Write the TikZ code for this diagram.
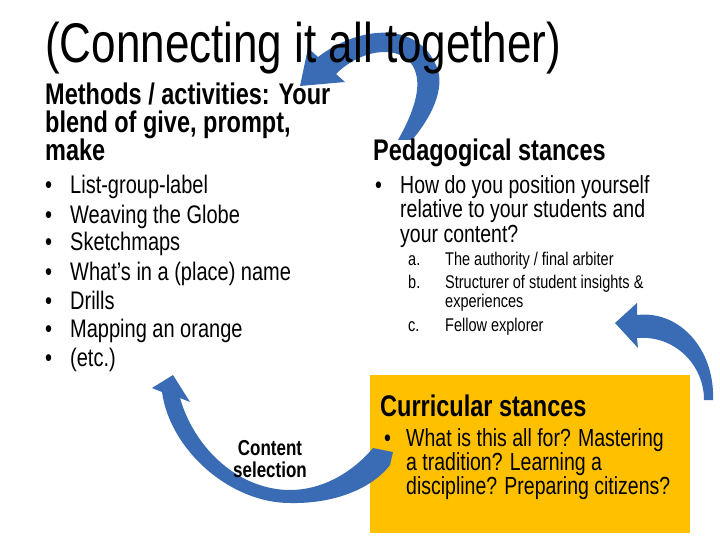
\documentclass[tikz,border=0pt]{standalone}
\usepackage{fontspec}
\setmainfont{Liberation Sans}
\definecolor{arrowblue}{RGB}{58,108,182}
\definecolor{boxorange}{RGB}{255,192,0}
\tikzset{
  t/.style={anchor=base west, inner sep=0pt, yscale=1.27, transform shape},
  tc/.style={anchor=base, inner sep=0pt, yscale=1.27, transform shape},
  arr/.style={fill=arrowblue, draw=none},
  big/.style={font=\fontsize{44}{48}\selectfont},
  head/.style={font=\fontsize{23.5}{26}\selectfont\bfseries},
  body/.style={font=\fontsize{20}{22}\selectfont},
  rbody/.style={font=\fontsize{19.5}{22}\selectfont},
  small/.style={font=\fontsize{14.5}{16}\selectfont},
  cs/.style={font=\fontsize{17}{19}\selectfont\bfseries},
}
\begin{document}
\begin{tikzpicture}[x=1pt,y=-1pt]
\useasboundingbox (0,0) rectangle (720,540);
\fill[white] (0,0) rectangle (720,540);
% orange box
\node[fill=boxorange, minimum width=320pt, minimum height=158pt, anchor=north west, inner sep=0pt] (box) at (370,375) {};
% top arrow
\path[arr] (318,57) .. controls (360,25) and (420,20) .. (438,70) .. controls (445,95) and (425,125) .. (412,140) -- (398,140) .. controls (415,110) and (425,80) .. (410,62) .. controls (395,45) and (360,50) .. (336,74) -- (345,82) -- (300,86) -- (308,48) -- cycle;
% bottom arrow
\path[arr] (162,392) .. controls (170,450) and (230,503) .. (290,503) .. controls (340,504) and (375,485) .. (390,465) -- (393,452) -- (373,448) .. controls (350,475) and (320,490) .. (290,490) .. controls (240,490) and (195,450) .. (180,398) -- (190,402) -- (173,375) -- (152,388) -- cycle;
% right arrow
\path[arr] (637,315) .. controls (680,310) and (715,350) .. (713,400) -- (704,400) .. controls (704,365) and (675,335) .. (637,338) -- (638,348) -- (615,323) -- (637,303) -- cycle;
% title
\node[t,big] (title) at (45,63) {(Connecting it all together)};
% left heading
\node[t,head] (m1) at (45,105) {Methods / activities: Your};
\node[t,head] (m2) at (45,133) {blend of give, prompt,};
\node[t,head] (m3) at (45,161) {make};
\node[t,head] (ped) at (373,161) {Pedagogical stances};
% left bullets
\foreach \y/\s [count=\i] in {194/List-group-label,223/Weaving the Globe,251/Sketchmaps,280/What’s in a (place) name,309/Drills / drill games,337/Mapping an orange,366/(etc.)}{
  \node[t,body] (lb\i) at (45,\y) {•};
  \node[t,body] (lt\i) at (70,\y) {\s};
}
% right bullet
\node[t,rbody] (rb) at (375,194) {•};
\node[t,rbody] (r1) at (400,194) {How do you position yourself};
\node[t,rbody] (r2) at (400,218) {relative to your students and};
\node[t,rbody] (r3) at (400,242) {your content?};
\node[t,small] (la) at (408,265) {a.};
\node[t,small] (ta) at (445,265) {The authority / final arbiter};
\node[t,small] (lbb) at (408,288) {b.};
\node[t,small] (tb1) at (445,288) {Structurer of student insights \&};
\node[t,small] (tb2) at (445,307) {experiences};
\node[t,small] (lc) at (408,331) {c.};
\node[t,small] (tc) at (445,331) {Fellow explorer};
% curricular
\node[t,head] (cur) at (380,416) {Curricular stances};
\node[t,rbody] (cb) at (384,446) {•};
\node[t,rbody] (c1) at (406,446) {What is this all for? Mastering};
\node[t,rbody] (c2) at (406,470) {a tradition? Learning a};
\node[t,rbody] (c3) at (406,494) {discipline? Preparing citizens?};
% content selection
\node[tc,cs] (cs1) at (270,455) {Content};
\node[tc,cs] (cs2) at (270,477) {selection};
\end{tikzpicture}
\end{document}
